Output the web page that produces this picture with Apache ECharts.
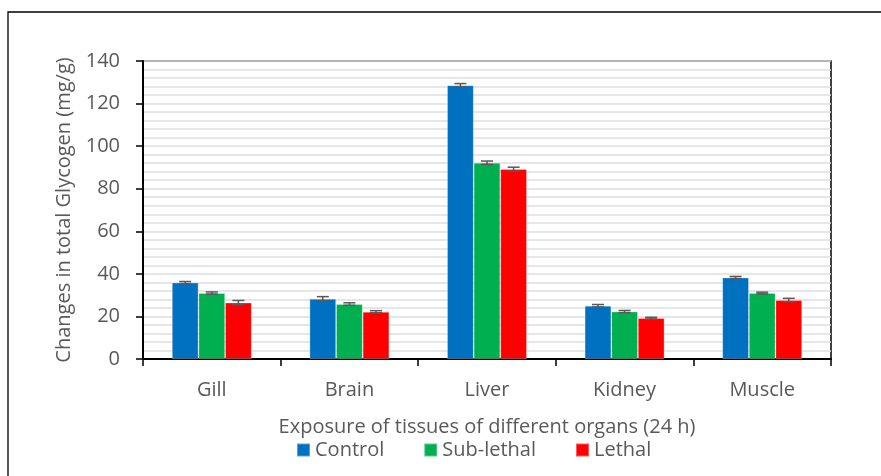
<!DOCTYPE html>
<html>
<head>
<meta charset="utf-8">
<script src="https://cdn.jsdelivr.net/npm/echarts@6/dist/echarts.min.js"></script>
<style>
  html, body { margin: 0; padding: 0; background: #fff; }
  #chart { width: 881px; height: 476px; }
</style>
</head>
<body>
<div id="chart"></div>
<script>
// organs on the x axis
const organs = ['Gill', 'Brain', 'Liver', 'Kidney', 'Muscle'];
const seriesNames = ['Control', 'Sub-lethal', 'Lethal'];
const colors = ['#0070C0', '#00B050', '#FF0000'];

// glycogen means (mg/g)
const control = [35.9, 28.3, 128.6, 25.0, 38.3];
const subLethal = [31.0, 25.8, 92.2, 22.3, 31.0];
const lethal = [26.5, 22.2, 89.2, 19.2, 27.7];

// standard errors
const controlErr = [0.5, 1.0, 0.8, 0.6, 0.5];
const subLethalErr = [0.5, 0.6, 0.8, 0.5, 0.4];
const lethalErr = [1.0, 0.5, 0.9, 0.4, 0.8];

const yTicks = [0, 20, 40, 60, 80, 100, 120, 140];

const means = [control, subLethal, lethal];
const errs = [controlErr, subLethalErr, lethalErr];
const catGap = 0.42;
const font = '"Open Sans", "Noto Sans", sans-serif';
const textColor = '#595959';
const fs = 20;

let myChart = echarts.init(document.getElementById('chart'));

let barSeries = seriesNames.map((name, i) => ({
  name: name,
  type: 'bar',
  data: means[i],
  barGap: '0%',
  barCategoryGap: (catGap * 100) + '%',
  itemStyle: { color: colors[i], borderColor: 'rgba(255,255,255,0.35)', borderWidth: 0.8 },
  z: 2
}));

let errSeries = seriesNames.map((name, i) => ({
  type: 'custom',
  name: name + ' err',
  z: 5,
  silent: true,
  data: means[i].map((v, k) => [k, v - errs[i][k], v + errs[i][k]]),
  renderItem: function (params, api) {
    let k = api.value(0);
    let lo = api.coord([k, api.value(1)]);
    let hi = api.coord([k, api.value(2)]);
    let band = api.size([1, 0])[0];
    let barW = band * (1 - catGap) / 3;
    let x = lo[0] + (i - 1) * barW;
    let cap = 6;
    let st = { stroke: '#595959', lineWidth: 1.5 };
    return {
      type: 'group',
      children: [
        { type: 'line', shape: { x1: x, y1: lo[1], x2: x, y2: hi[1] }, style: st },
        { type: 'line', shape: { x1: x - cap, y1: lo[1], x2: x + cap, y2: lo[1] }, style: st },
        { type: 'line', shape: { x1: x - cap, y1: hi[1], x2: x + cap, y2: hi[1] }, style: st }
      ]
    };
  }
}));

myChart.setOption({
  animation: false,
  textStyle: { fontFamily: font },
  graphic: [{
    type: 'rect',
    shape: { x: 8, y: 12, width: 900, height: 500 },
    style: { fill: 'none', stroke: '#000', lineWidth: 1.3 },
    silent: true
  }],
  grid: {
    left: 143, top: 61, right: 50, bottom: 117,
    show: true, borderColor: '#000', borderWidth: 1.5, backgroundColor: 'transparent'
  },
  legend: {
    bottom: 11,
    left: 291,
    itemWidth: 13,
    itemHeight: 13,
    itemGap: 39,
    icon: 'rect',
    data: seriesNames,
    textStyle: { color: textColor, fontSize: fs, fontFamily: font }
  },
  xAxis: {
    type: 'category',
    data: organs,
    name: 'Exposure of tissues of different organs (24 h)',
    nameLocation: 'middle',
    nameGap: 58,
    nameTextStyle: { color: textColor, fontSize: fs, fontFamily: font },
    axisLine: { lineStyle: { color: '#000', width: 2 } },
    axisTick: { show: true, length: 7, lineStyle: { color: '#000', width: 1.5 } },
    axisLabel: { color: textColor, fontSize: fs, margin: 21, fontFamily: font }
  },
  yAxis: {
    type: 'value',
    min: 0,
    max: 140,
    interval: 20,
    name: 'Changes in total Glycogen (mg/g)',
    nameLocation: 'middle',
    nameGap: 67,
    nameTextStyle: { color: textColor, fontSize: fs, fontFamily: font },
    axisLine: { show: true, lineStyle: { color: '#000', width: 2 } },
    axisTick: { show: true, length: 7, lineStyle: { color: '#000', width: 1.5 } },
    axisLabel: {
      color: textColor, fontSize: fs, margin: 23, fontFamily: font,
      formatter: v => (yTicks.indexOf(v) >= 0 ? String(v) : '')
    },
    splitLine: { show: true, lineStyle: { color: '#dedede', width: 1.5 } },
    minorTick: { show: false, splitNumber: 5 },
    minorSplitLine: { show: true, lineStyle: { color: '#dedede', width: 1.5 } }
  },
  series: barSeries.concat(errSeries)
});

window.addEventListener('resize', function () {
  myChart.resize();
});
</script>
</body>
</html>
